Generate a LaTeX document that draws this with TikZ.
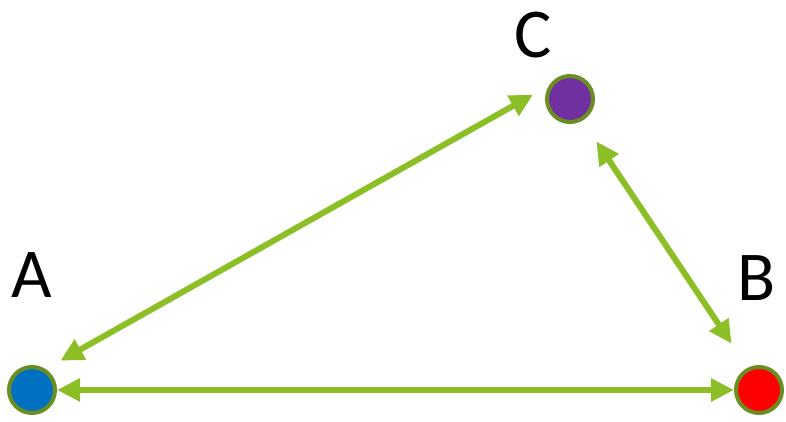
\documentclass[tikz,border=0pt]{standalone}
\usepackage{fontspec}
\setmainfont{Carlito}
\usetikzlibrary{arrows.meta}
\definecolor{linkgreen}{RGB}{140,191,38}
\definecolor{rimgreen}{RGB}{107,142,35}
\definecolor{ablue}{RGB}{0,112,192}
\definecolor{bred}{RGB}{255,0,0}
\definecolor{cpurple}{RGB}{112,48,160}

\begin{document}
\begin{tikzpicture}[
      x=1pt, y=1pt,
      dot/.style={
        circle,
        draw=rimgreen,
        line width=4pt,
        minimum size=46pt,
        inner sep=0pt
      },
      letter/.style={
        inner sep=0pt,
        font=\fontsize{70}{70}\selectfont
      },
      link/.style={
        {Triangle[length=23pt,width=22pt]}-{Triangle[length=23pt,width=22pt]},
        line width=6pt,
        draw=linkgreen
      }
    ]
    \useasboundingbox (0,0) rectangle (786,421);

    % Points
    \node[dot, fill=ablue] (A) at (32,31) {};
    \node[dot, fill=bred] (B) at (759,31) {};
    \node[dot, fill=cpurple] (C) at (570,322) {};

    % Labels
    \node[letter] (labA) at (32,146) {A};
    \node[letter] (labB) at (757,143) {B};
    \node[letter] (labC) at (533,386) {C};

    % Links
    \draw[link] (A.east) -- (B.west);
    \draw[link, shorten <=17pt, shorten >=18pt] (A.57) -- (C.148);
    \draw[link, shorten <=25pt, shorten >=29pt] (C.-60) -- (B.117);

\end{tikzpicture}
\end{document}
